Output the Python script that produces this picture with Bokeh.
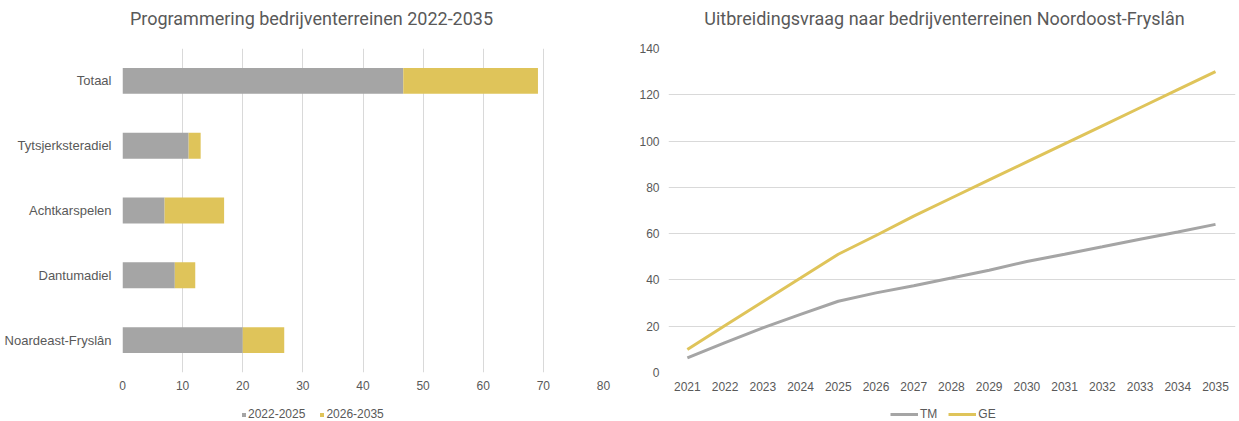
from bokeh.plotting import figure
from bokeh.models import Range1d, FactorRange, Legend, LegendItem, FixedTicker, Label
from bokeh.layouts import row, column
from bokeh.embed import file_html
from bokeh.resources import INLINE

# ---------------- data ----------------
municipalities = ["Totaal", "Tytsjerksteradiel", "Achtkarspelen", "Dantumadiel", "Noardeast-Fryslân"]
period_2022_2025 = [46.7, 11.0, 7.0, 8.7, 20.0]
period_2026_2035 = [22.4, 2.0, 9.9, 3.4, 6.9]
period_names = ["2022-2025", "2026-2035"]

years = [2021, 2022, 2023, 2024, 2025, 2026, 2027, 2028, 2029, 2030, 2031, 2032, 2033, 2034, 2035]
tm = [6.3, 12.9, 19.3, 25.1, 30.8, 34.4, 37.5, 40.8, 44.2, 48.0, 51.1, 54.3, 57.6, 60.7, 64.0]
ge = [9.9, 20.3, 30.6, 40.8, 51.1, 59.2, 67.6, 75.4, 83.2, 91.0, 98.8, 106.6, 114.4, 122.2, 130.0]
series_names = ["TM", "GE"]
x_ticks_left = [0, 10, 20, 30, 40, 50, 60, 70, 80]
y_ticks_right = [0, 20, 40, 60, 80, 100, 120, 140]
titles = ["Programmering bedrijventerreinen 2022-2035",
          "Uitbreidingsvraag naar bedrijventerreinen Noordoost-Fryslân"]

GRAY = "#a5a5a5"
YELLOW = "#dfc45a"
TXT = "#595959"
GRID = "#d9d9d9"
AXF = "Liberation Sans"
TF = "Roboto"

TH = 36    # title strip height
CH = 364   # chart height
LH = 21    # legend strip height
W1, W2 = 620, 619


def strip(width, height, x0=0.0):
    q = figure(width=width, height=height, x_range=Range1d(x0, x0 + width), y_range=Range1d(0, height),
               output_backend="svg", toolbar_location=None,
               x_axis_location=None, y_axis_location=None,
               min_border_left=0, min_border_right=0, min_border_top=0, min_border_bottom=0)
    q.outline_line_color = None
    q.grid.grid_line_color = None
    return q


def title_strip(width, text, cx):
    t = strip(width, TH)
    t.add_layout(Label(x=cx, y=TH - 18, text=text, text_align="center", text_baseline="middle",
                       text_font=TF, text_font_size="18px", text_color=TXT))
    return t


def style_axes(p):
    p.outline_line_color = None
    for ax in (p.xaxis[0], p.yaxis[0]):
        ax.axis_line_color = None
        ax.major_tick_line_color = None
        ax.minor_tick_line_color = None
        ax.major_label_text_color = TXT
        ax.major_label_text_font = AXF
        ax.major_label_text_font_size = "12px"


def make_legend(items, x, gw, gh, standoff, spacing):
    return Legend(items=items, orientation="horizontal", location=(x, 0),
                  glyph_width=gw, glyph_height=gh, label_standoff=standoff, spacing=spacing,
                  label_width=0, label_text_font=AXF, label_text_font_size="12px",
                  label_text_color=TXT, label_height=12, padding=0, margin=0,
                  border_line_color=None, background_fill_alpha=0)


# ---------------- left: stacked bars ----------------
t1 = title_strip(W1, titles[0], 311)

cats_bottom_up = list(reversed(municipalities))
src = dict(cat=municipalities, a=period_2022_2025, b=period_2026_2035)
p1 = figure(width=W1, height=CH, y_range=FactorRange(factors=cats_bottom_up, range_padding=0),
            x_range=Range1d(0, 80), output_backend="svg", toolbar_location=None,
            min_border_left=122, min_border_right=17, min_border_top=12, min_border_bottom=28)
p1.hbar_stack(["a", "b"], y="cat", height=0.4, color=[GRAY, YELLOW], line_color=None, source=src)
style_axes(p1)
p1.ygrid.grid_line_color = None
p1.xgrid.grid_line_color = GRID
p1.xaxis.ticker = FixedTicker(ticks=x_ticks_left)
p1.yaxis.major_label_text_font_size = "13px"
p1.xaxis.major_label_standoff = 2
p1.yaxis.major_label_standoff = 5

# legend strip: its x range lies entirely below zero, so the bars (x >= 0) stay out of view;
# only their legend swatches are drawn
q1 = strip(W1, LH, x0=-5000.0)
b1 = q1.hbar(y=period_2022_2025, right=period_2022_2025, height=0.4, color=GRAY, line_color=None)
b2 = q1.hbar(y=period_2026_2035, right=period_2026_2035, height=0.4, color=YELLOW, line_color=None)
q1.add_layout(make_legend([LegendItem(label=period_names[0], renderers=[b1]),
                           LegendItem(label=period_names[1], renderers=[b2])],
                          241, 5, 5, 2, 14), "center")

# ---------------- right: lines ----------------
t2 = title_strip(W2, titles[1], 324)

p2 = figure(width=W2, height=CH, x_range=Range1d(2020.5, 2035.53), y_range=Range1d(0, 140),
            output_backend="svg", toolbar_location=None,
            min_border_left=48, min_border_right=4, min_border_top=11, min_border_bottom=28)
p2.line(years, tm, line_color=GRAY, line_width=3)
p2.line(years, ge, line_color=YELLOW, line_width=3)
style_axes(p2)
p2.xgrid.grid_line_color = None
p2.ygrid.grid_line_color = GRID
p2.xaxis.ticker = FixedTicker(ticks=years)
p2.yaxis.ticker = FixedTicker(ticks=y_ticks_right)
p2.xaxis.major_label_standoff = 3
p2.yaxis.major_label_standoff = 3

q2 = strip(W2, LH, x0=-5000.0)
k1 = q2.line(years, tm, line_color=GRAY, line_width=3)
k2 = q2.line(years, ge, line_color=YELLOW, line_width=3)
q2.add_layout(make_legend([LegendItem(label=series_names[0], renderers=[k1]),
                           LegendItem(label=series_names[1], renderers=[k2])],
                          270, 28, 12, 2, 11), "center")

layout = column(row(t1, t2, spacing=0), row(p1, p2, spacing=0), row(q1, q2, spacing=0), spacing=0)
open("out.html", "w").write(file_html(layout, INLINE))
